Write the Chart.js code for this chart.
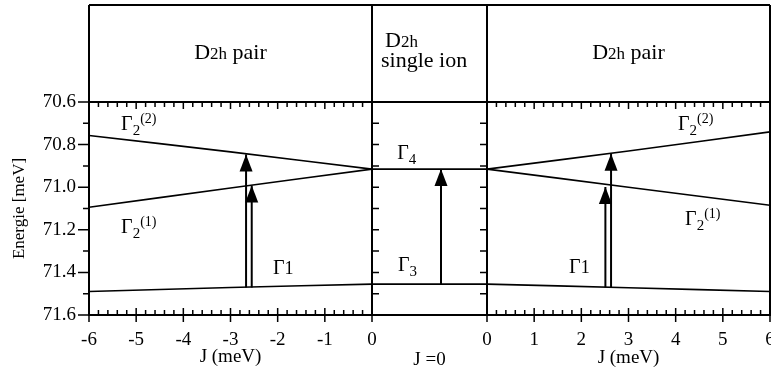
<!DOCTYPE html>
<html>
<head>
<meta charset="utf-8">
<script src="https://cdn.jsdelivr.net/npm/chart.js@4.4.0/dist/chart.umd.min.js"></script>
<style>
  body { margin: 0; background: #fff; }
  #wrap { position: relative; width: 771px; height: 379px; }
  #wrap canvas { position: absolute; left: 0; top: 0; }
</style>
</head>
<body>
<div id="wrap">
  <canvas id="leftChart" width="771" height="379"></canvas>
  <canvas id="midChart" width="771" height="379"></canvas>
  <canvas id="rightChart" width="771" height="379"></canvas>
</div>
<script>
// energy levels (meV)
var jLeft = [-6, -3, 0];
var g22Left = [70.757, 70.834, 70.915];
var g21Left = [71.094, 71.004, 70.915];
var g1Left = [71.490, 71.471, 71.455];

var jRight = [0, 3, 6];
var g22Right = [70.915, 70.830, 70.740];
var g21Right = [70.915, 71.000, 71.085];
var g1Right = [71.455, 71.472, 71.490];

// single ion levels (J = 0)
var singleX = [0, 1];
var gamma4 = [70.915, 70.915];
var gamma3 = [71.455, 71.455];

// transitions: position, from level, to level
var arrowsLeft = [[-2.67, 71.471, 70.846], [-2.55, 71.471, 70.992]];
var arrowsMid = [[0.6, 71.455, 70.915]];
var arrowsRight = [[2.51, 71.470, 70.999], [2.63, 71.470, 70.843]];

// level names, placed in data units
var namesLeft = [[-5.32, 70.731, '2', '(2)'], [-5.32, 71.215, '2', '(1)'], [-2.10, 71.408, '', '', '1']];
var namesMid = [[0.22, 70.868, '4', ''], [0.225, 71.393, '3', '']];
var namesRight = [[4.05, 70.731, '2', '(2)'], [4.20, 71.177, '2', '(1)'], [1.74, 71.403, '', '', '1']];

var SERIF = '"Liberation Serif", "Times New Roman", serif';
Chart.defaults.font.family = SERIF;
Chart.defaults.color = '#000';

function lineSet(xs, ys, w) {
    return {
        data: xs.map(function(x, i) { return {x: x, y: ys[i]}; }),
        borderColor: '#000', borderWidth: w || 1.6, pointRadius: 0, tension: 0.3, fill: false
    };
}

function arrowSets(list) {
    return list.map(function(a) {
        var ds = lineSet([a[0], a[0]], [a[1], a[2]], 2);
        ds.arrow = true;
        return ds;
    });
}

function drawRuns(ctx, runs, x, y, align) {
    var total = 0;
    runs.forEach(function(r) { ctx.font = r.size + 'px ' + SERIF; r.w = ctx.measureText(r.t).width; total += r.w + (r.gap || 0); });
    var cx = align === 'center' ? x - total / 2 : x;
    runs.forEach(function(r) {
        ctx.font = r.size + 'px ' + SERIF;
        ctx.fillText(r.t, cx, y + (r.dy || 0));
        cx += r.w + (r.gap || 0);
    });
}

function drawHeader(ctx, a, kind) {
    ctx.textAlign = 'left';
    ctx.textBaseline = 'alphabetic';
    if (kind === 'pair') {
        drawRuns(ctx, [{t: 'D', size: 22}, {t: '2h', size: 17}, {t: ' pair', size: 22}], (a.left + a.right) / 2, 59, 'center');
    } else {
        drawRuns(ctx, [{t: 'D', size: 22}, {t: '2h', size: 17}], a.left + 13, 47, 'left');
        drawRuns(ctx, [{t: 'single ion', size: 22}], a.left + 9, 67, 'left');
    }
}

var panelPlugin = {
    id: 'panel',
    afterDatasetsDraw: function(chart, args, opts) {
        var ctx = chart.ctx, a = chart.chartArea;
        var xs = chart.scales.x, ys = chart.scales.y;
        var headTop = 5;
        ctx.save();
        ctx.fillStyle = '#000';
        ctx.strokeStyle = '#000';

        // arrow heads on the transitions
        chart.data.datasets.forEach(function(ds, i) {
            if (!ds.arrow) return;
            var tip = chart.getDatasetMeta(i).data[1];
            ctx.beginPath();
            ctx.moveTo(tip.x, tip.y);
            ctx.lineTo(tip.x - 6.5, tip.y + 17);
            ctx.lineTo(tip.x + 6.5, tip.y + 17);
            ctx.closePath();
            ctx.fill();
        });

        // frame and header box
        ctx.lineWidth = 2;
        ctx.beginPath();
        ctx.moveTo(a.left, headTop); ctx.lineTo(a.right, headTop);
        ctx.moveTo(a.left, a.top); ctx.lineTo(a.right, a.top);
        ctx.moveTo(a.left, headTop); ctx.lineTo(a.left, a.bottom);
        ctx.moveTo(a.right, headTop); ctx.lineTo(a.right, a.bottom);
        ctx.moveTo(a.left, a.bottom); ctx.lineTo(a.right, a.bottom);
        ctx.stroke();

        ctx.lineWidth = 1.5;
        ctx.beginPath();
        var k, v, p, major;
        if (opts.xTicks) {
            var n = Math.round((xs.max - xs.min) / 0.2);
            for (k = 0; k <= n; k++) {
                v = xs.min + k * 0.2;
                p = xs.getPixelForValue(v);
                major = k % 5 === 0;
                ctx.moveTo(p, a.bottom + (major ? 7 : 0)); ctx.lineTo(p, a.bottom - (major ? 7 : 5));
                ctx.moveTo(p, a.top); ctx.lineTo(p, a.top + (major ? 7 : 5));
            }
        }
        for (k = 0; k <= 10; k++) {
            v = ys.min + k * 0.1;
            p = ys.getPixelForValue(v);
            if (opts.yOut) {
                ctx.moveTo(a.left - (k % 2 === 0 ? 11 : 6), p); ctx.lineTo(a.left, p);
            }
            if (opts.yIn && k > 0 && k < 10) {
                ctx.moveTo(a.left, p); ctx.lineTo(a.left + 7, p);
                ctx.moveTo(a.right - 7, p); ctx.lineTo(a.right, p);
            }
        }
        ctx.stroke();

        // level names
        ctx.textAlign = 'left';
        ctx.textBaseline = 'alphabetic';
        (opts.names || []).forEach(function(nm) {
            var px = xs.getPixelForValue(nm[0]), py = ys.getPixelForValue(nm[1]);
            var runs = [{t: '\u0393', size: 20}];
            if (nm[2]) runs.push({t: nm[2], size: 15, dy: 5});
            if (nm[3]) runs.push({t: nm[3], size: 14, dy: -7});
            if (nm[4]) runs.push({t: nm[4], size: 18, gap: 0});
            drawRuns(ctx, runs, px, py, 'left');
        });

        drawHeader(ctx, a, opts.header);
        ctx.restore();
    }
};

function xAxis(min, max, title, showTicks, titlePad) {
    return {
        type: 'linear', min: min, max: max,
        ticks: {display: showTicks, stepSize: 1, padding: 14, color: '#000', font: {size: 19}},
        grid: {display: false, drawTicks: false},
        border: {display: true, color: '#000', width: 2},
        title: {display: true, text: title, color: '#000', font: {size: 19}, padding: {top: 0, bottom: titlePad}},
        afterFit: function(s) { s.height = 64; s.paddingLeft = 0; s.paddingRight = 0; }
    };
}

function yAxis(show) {
    return {
        type: 'linear', reverse: true, min: 70.6, max: 71.6, display: show,
        ticks: {stepSize: 0.2, padding: 13, color: '#000', font: {size: 19}, callback: function(v) { return v.toFixed(1); }},
        grid: {display: false, drawTicks: false},
        border: {display: true, color: '#000', width: 2},
        title: {display: true, text: 'Energie [meV]', color: '#000', font: {size: 17}, padding: {top: 9, bottom: 0}},
        afterFit: function(s) { s.width = show ? 89 : 0; s.paddingTop = 0; s.paddingBottom = 0; }
    };
}

function makeChart(id, datasets, pad, x, y, panel) {
    return new Chart(document.getElementById(id), {
        type: 'line',
        data: {datasets: datasets},
        options: {
            responsive: false,
            animation: false,
            layout: {padding: pad},
            scales: {x: x, y: y},
            plugins: {legend: {display: false}, tooltip: {enabled: false}, panel: panel}
        },
        plugins: [panelPlugin]
    });
}

makeChart('leftChart',
    [lineSet(jLeft, g22Left), lineSet(jLeft, g21Left), lineSet(jLeft, g1Left)].concat(arrowSets(arrowsLeft)),
    {left: 0, top: 102, right: 399, bottom: 0},
    xAxis(-6, 0, 'J (meV)', true, 11), yAxis(true),
    {xTicks: true, yOut: true, names: namesLeft, header: 'pair'});

makeChart('midChart',
    [lineSet(singleX, gamma4), lineSet(singleX, gamma3)].concat(arrowSets(arrowsMid)),
    {left: 372, top: 102, right: 284, bottom: 0},
    xAxis(0, 1, 'J =0', false, 8), yAxis(false),
    {yIn: true, names: namesMid, header: 'single'});

makeChart('rightChart',
    [lineSet(jRight, g22Right), lineSet(jRight, g21Right), lineSet(jRight, g1Right)].concat(arrowSets(arrowsRight)),
    {left: 487, top: 102, right: 1, bottom: 0},
    xAxis(0, 6, 'J (meV)', true, 10), yAxis(false),
    {xTicks: true, names: namesRight, header: 'pair'});
</script>
</body>
</html>
